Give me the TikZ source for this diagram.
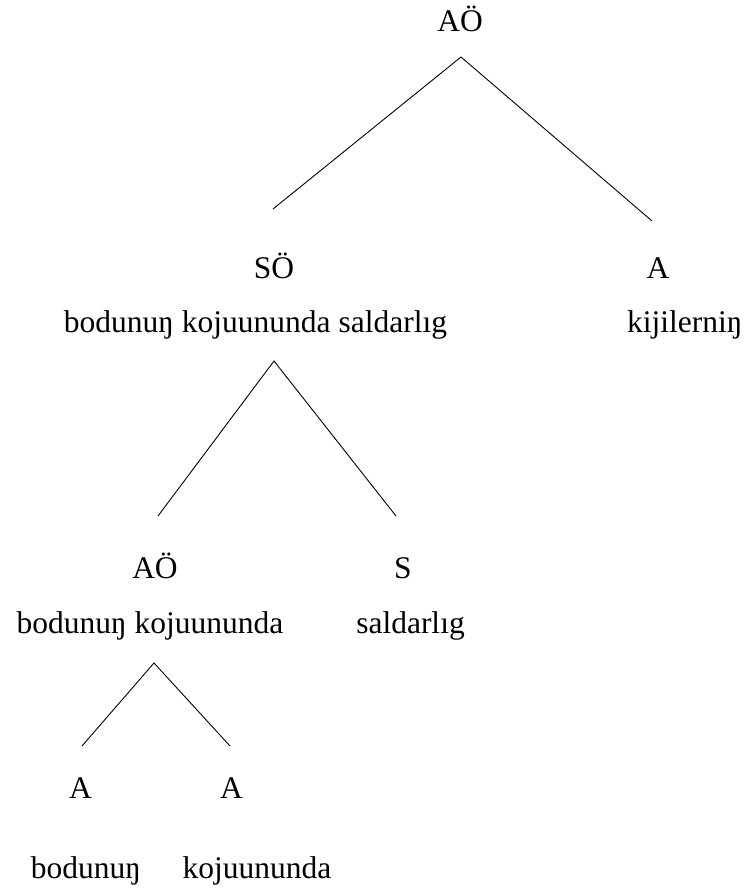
\documentclass[tikz,border=0pt]{standalone}
\usepackage{fontspec}
\setmainfont{Liberation Serif}
\newfontfamily\treefont{Liberation Serif}
\begin{document}
\begin{tikzpicture}[x=1pt,y=-1pt,
  lbl/.style={anchor=base,inner sep=0pt,font=\treefont\fontsize{31.5}{38}\selectfont},
  branch/.style={line width=0.9pt,black}]
\useasboundingbox (0,0) rectangle (746,890);
% labels
\node[lbl] (root) at (460,32) {AÖ};
\node[lbl] (so) at (274,278) {SÖ};
\node[lbl] (ar) at (658,278) {A};
\node[lbl] (sotext) at (255.5,332) {bodunuŋ kojuununda saldarlıg};
\node[lbl,anchor=base west] (artext) at (627,332) {kijilerniŋ};
\node[lbl] (ao) at (155,578) {AÖ};
\node[lbl] (s) at (403,578) {S};
\node[lbl] (aotext) at (150,633) {bodunuŋ kojuununda};
\node[lbl] (stext) at (410.5,633) {saldarlıg};
\node[lbl] (a1) at (80.5,798) {A};
\node[lbl] (a2) at (231.5,798) {A};
\node[lbl] (a1text) at (86,878) {bodunuŋ};
\node[lbl] (a2text) at (257,878) {kojuununda};
% branch points
\coordinate (p0) at (461,57);
\coordinate (p0l) at (273,209);
\coordinate (p0r) at (652,221);
\coordinate (p1) at (274,361);
\coordinate (p1l) at (158,516);
\coordinate (p1r) at (396,516);
\coordinate (p2) at (154,663);
\coordinate (p2l) at (82,746);
\coordinate (p2r) at (230,746);
% branches
\draw[branch] (p0l) -- (p0) -- (p0r);
\draw[branch] (p1l) -- (p1) -- (p1r);
\draw[branch] (p2l) -- (p2) -- (p2r);
\end{tikzpicture}
\end{document}
